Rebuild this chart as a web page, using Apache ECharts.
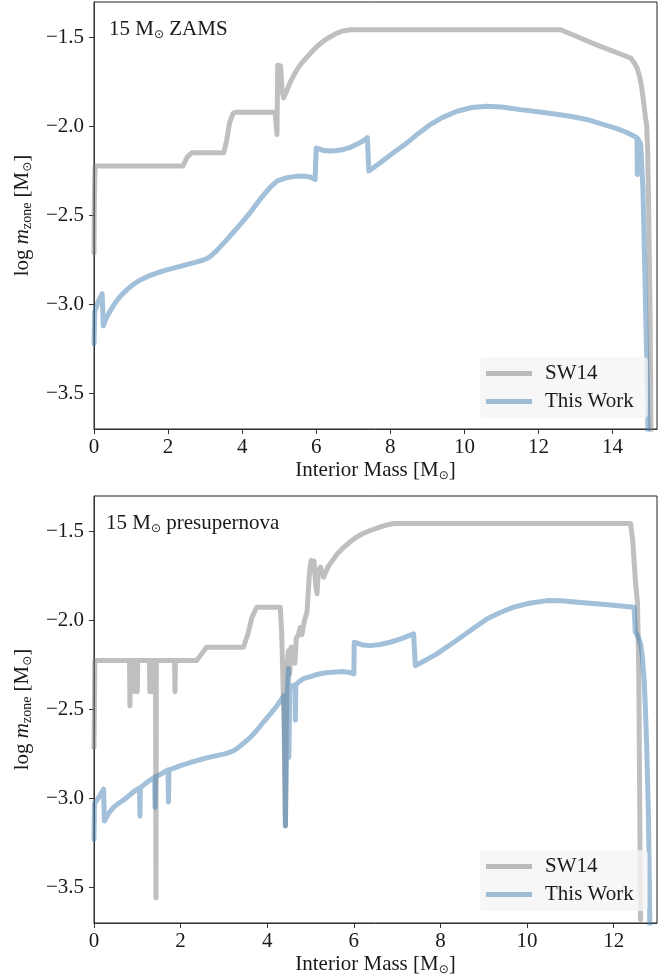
<!DOCTYPE html>
<html>
<head>
<meta charset="utf-8">
<script src="https://cdn.jsdelivr.net/npm/echarts@6/dist/echarts.min.js"></script>
<style>
  html, body { margin: 0; padding: 0; background: #fff; }
  #chart { width: 670px; height: 977px; }
</style>
</head>
<body>
<div id="chart"></div>
<script>
// Zone masses of a 15 Msun star: SW14 grid vs. this work, at ZAMS and presupernova.
// Each series is a list of [interior mass (Msun), log m_zone (Msun)] points.

const zamsSW14 = [
  [0.00, -2.71], [0.01, -2.40], [0.03, -2.222], [2.40, -2.222], [2.52, -2.17], [2.64, -2.148],
  [3.50, -2.148], [3.58, -2.08], [3.66, -1.98], [3.76, -1.925], [3.82, -1.92], [4.89, -1.92],
  [4.93, -1.92], [4.94, -2.045], [4.96, -1.655], [5.04, -1.66], [5.08, -1.80], [5.12, -1.84],
  [5.20, -1.80], [5.30, -1.75], [5.40, -1.71], [5.48, -1.68], [5.60, -1.645], [5.75, -1.61],
  [5.90, -1.575], [6.02, -1.55], [6.16, -1.525], [6.30, -1.505], [6.43, -1.49], [6.56, -1.475],
  [6.72, -1.463], [6.92, -1.456], [12.60, -1.456], [13.50, -1.535], [14.49, -1.615], [14.58, -1.64],
  [14.66, -1.67], [14.72, -1.71], [14.78, -1.77], [14.82, -1.83], [14.86, -1.90], [14.89, -1.95],
  [14.92, -1.99], [14.95, -2.15], [14.97, -2.40], [14.99, -2.70], [15.01, -3.00], [15.03, -3.50],
  [15.04, -3.85]
];

const zamsThisWork = [
  [0.00, -3.22], [0.02, -3.04], [0.12, -2.98], [0.22, -2.94], [0.25, -3.12], [0.32, -3.08],
  [0.40, -3.05], [0.50, -3.015], [0.61, -2.98], [0.75, -2.945], [0.90, -2.915], [1.06, -2.888],
  [1.25, -2.862], [1.50, -2.838], [1.75, -2.82], [1.96, -2.806], [2.25, -2.79], [2.50, -2.776],
  [2.75, -2.762], [2.95, -2.75], [3.07, -2.74], [3.14, -2.73], [3.22, -2.715], [3.30, -2.70],
  [3.50, -2.655], [3.68, -2.614], [3.95, -2.55], [4.22, -2.483], [4.50, -2.405], [4.76, -2.34],
  [4.95, -2.305], [5.21, -2.287], [5.45, -2.28], [5.66, -2.278], [5.85, -2.285], [5.97, -2.297],
  [6.00, -2.12], [6.20, -2.135], [6.38, -2.138], [6.56, -2.135], [6.74, -2.129], [6.92, -2.117],
  [7.10, -2.10], [7.25, -2.083], [7.38, -2.063], [7.42, -2.25], [7.73, -2.203], [8.00, -2.16],
  [8.40, -2.10], [8.75, -2.04], [9.08, -1.989], [9.40, -1.95], [9.80, -1.914], [10.20, -1.893],
  [10.61, -1.886], [11.00, -1.89], [11.51, -1.905], [12.20, -1.922], [12.86, -1.942], [13.30, -1.96],
  [13.76, -1.989], [14.10, -2.01], [14.40, -2.035], [14.66, -2.063], [14.67, -2.27], [14.69, -2.07],
  [14.76, -2.10], [14.82, -2.35], [14.87, -2.80], [14.92, -3.30], [14.97, -3.85]
];

const preSNSW14 = [
  [0.00, -2.714], [0.02, -2.225], [0.82, -2.225], [0.83, -2.48], [0.84, -2.225], [0.92, -2.225],
  [0.93, -2.40], [0.94, -2.225], [0.99, -2.225], [1.00, -2.40], [1.01, -2.225], [1.28, -2.225],
  [1.29, -2.40], [1.30, -2.225], [1.34, -2.225], [1.35, -2.40], [1.36, -2.225], [1.42, -2.225],
  [1.43, -3.56], [1.44, -2.225], [1.86, -2.225], [1.87, -2.40], [1.88, -2.225], [2.37, -2.225],
  [2.60, -2.150], [3.45, -2.150], [3.55, -2.08], [3.65, -1.98], [3.76, -1.925], [4.30, -1.925],
  [4.33, -2.05], [4.36, -2.30], [4.39, -2.60], [4.42, -3.155], [4.44, -2.60], [4.46, -2.25],
  [4.49, -2.17], [4.52, -2.30], [4.55, -2.15], [4.61, -2.15], [4.64, -2.24], [4.67, -2.10],
  [4.72, -2.08], [4.76, -2.04], [4.80, -2.08], [4.86, -2.00], [4.92, -1.95], [4.96, -1.944],
  [4.97, -1.75], [4.99, -1.70], [5.02, -1.662], [5.05, -1.72], [5.08, -1.665], [5.12, -1.80],
  [5.15, -1.85], [5.18, -1.72], [5.23, -1.70], [5.30, -1.756], [5.40, -1.70], [5.50, -1.665],
  [5.62, -1.625], [5.76, -1.59], [5.90, -1.56], [6.05, -1.533], [6.20, -1.512], [6.38, -1.494],
  [6.60, -1.475], [6.75, -1.463], [6.92, -1.455], [12.39, -1.455], [12.44, -1.55], [12.47, -1.662],
  [12.51, -1.665], [12.50, -1.775], [12.55, -1.90], [12.58, -2.30], [12.60, -3.00], [12.62, -3.68]
];

const preSNThisWork = [
  [0.00, -3.23], [0.01, -3.03], [0.12, -2.99], [0.22, -2.948], [0.24, -3.127], [0.32, -3.09],
  [0.45, -3.05], [0.58, -3.025], [0.68, -3.01], [0.80, -2.985], [0.90, -2.965], [1.05, -2.94],
  [1.06, -3.10], [1.07, -2.94], [1.25, -2.905], [1.40, -2.88], [1.41, -3.05], [1.42, -2.88],
  [1.71, -2.84], [1.72, -3.02], [1.73, -2.84], [2.00, -2.815], [2.22, -2.798], [2.60, -2.772],
  [2.99, -2.751], [3.10, -2.744], [3.22, -2.732], [3.30, -2.72], [3.40, -2.70], [3.50, -2.68],
  [3.61, -2.657], [3.73, -2.625], [3.85, -2.59], [3.96, -2.557], [4.07, -2.526], [4.20, -2.487],
  [4.34, -2.44], [4.39, -2.42], [4.42, -3.155], [4.46, -2.45], [4.49, -2.27], [4.50, -2.77],
  [4.52, -2.38], [4.64, -2.36], [4.65, -2.56], [4.66, -2.36], [4.75, -2.34], [4.85, -2.325],
  [5.00, -2.315], [5.15, -2.303], [5.30, -2.295], [5.50, -2.29], [5.76, -2.287], [5.90, -2.292],
  [6.00, -2.30], [6.01, -2.122], [6.20, -2.137], [6.38, -2.141], [6.60, -2.135], [6.84, -2.122],
  [7.10, -2.102], [7.38, -2.075], [7.42, -2.254], [7.90, -2.19], [8.31, -2.122], [8.70, -2.055],
  [9.08, -1.99], [9.38, -1.955], [9.69, -1.925], [10.05, -1.903], [10.47, -1.888], [10.80, -1.889],
  [11.16, -1.897], [11.80, -1.91], [12.47, -1.925], [12.50, -2.066], [12.56, -2.09], [12.62, -2.13],
  [12.66, -2.20], [12.70, -2.32], [12.73, -2.48], [12.76, -2.69], [12.78, -2.87], [12.80, -3.07],
  [12.82, -3.40], [12.84, -3.85]
];

const panelMass = '15 M';
const panelStages = [' ZAMS', ' presupernova'];
const xTicksZams = [0, 2, 4, 6, 8, 10, 12, 14];
const xTicksPreSN = [0, 2, 4, 6, 8, 10, 12];
const yTicks = [-3.5, -3.0, -2.5, -2.0, -1.5];
const seriesNames = ['SW14', 'This Work'];

const FONT = "'Liberation Serif', 'DejaVu Serif', serif";
const TXT = '#1a1a1a';
const GRAY = 'rgba(128,128,128,0.5)';
const BLUE = 'rgba(70,130,180,0.5)';

const rich = {
  r: { fontFamily: FONT, fontSize: 21, fontWeight: 'normal', color: TXT, lineHeight: 24 },
  i: { fontFamily: FONT, fontSize: 21, fontWeight: 'normal', fontStyle: 'italic', color: TXT, lineHeight: 24 },
  sub: { fontFamily: FONT, fontSize: 14, fontWeight: 'normal', color: TXT, verticalAlign: 'bottom', lineHeight: 16 },
  od: { fontFamily: "'DejaVu Sans'", fontSize: 12, fontWeight: 'normal', color: TXT, verticalAlign: 'bottom', lineHeight: 14 }
};

const fmtTick = v => (v < 0 ? '\u2212' + Math.abs(v).toFixed(1) : String(v));

const grids = [
  { left: 94, top: 2, width: 563, height: 427 },
  { left: 94, top: 496, width: 563, height: 427 }
];
grids.forEach(g => { g.show = true; g.borderColor = '#222'; g.borderWidth = 1; g.backgroundColor = 'transparent'; });

function xAxis(idx, max, ticks) {
  return {
    type: 'value', gridIndex: idx, min: 0, max: max,
    name: '{r|Interior Mass [M}{od|\u2299}{r|]}',
    nameLocation: 'middle', nameGap: 29,
    nameTextStyle: { rich: rich },
    axisLine: { show: true, lineStyle: { color: '#333', width: 1 } },
    axisTick: { show: true, length: 5, lineStyle: { color: '#333' }, customValues: ticks },
    axisLabel: { fontFamily: FONT, fontSize: 21, color: TXT, margin: 8, customValues: ticks,
                 formatter: v => String(v) },
    splitLine: { show: false }
  };
}
function yAxis(idx) {
  return {
    type: 'value', gridIndex: idx, min: -3.7, max: -1.3,
    name: '{r|log }{i|m}{sub|zone}{r| [M}{od|\u2299}{r|]}',
    nameLocation: 'middle', nameGap: 60, nameRotate: 90,
    nameTextStyle: { rich: rich },
    axisLine: { show: true, lineStyle: { color: '#333', width: 1 } },
    axisTick: { show: true, length: 5, lineStyle: { color: '#333' }, customValues: yTicks },
    axisLabel: { fontFamily: FONT, fontSize: 21, color: TXT, margin: 10, customValues: yTicks,
                 formatter: fmtTick },
    splitLine: { show: false }
  };
}

function lineSeries(name, data, color, idx) {
  return {
    name: name, type: 'line', data: data, xAxisIndex: idx, yAxisIndex: idx,
    showSymbol: false, symbol: 'none', smooth: false, animation: false, clip: true,
    color: color,
    lineStyle: { color: color, width: 5, cap: 'round', join: 'round' },
    emphasis: { disabled: true }
  };
}

function legend(top) {
  return {
    data: seriesNames, orient: 'vertical', left: 480, top: top,
    icon: 'rect', itemWidth: 46, itemHeight: 5, itemGap: 7,
    padding: [6, 14, 6, 6],
    backgroundColor: 'rgba(245,245,245,0.8)', borderRadius: 4,
    textStyle: { fontFamily: FONT, fontSize: 21, color: TXT, lineHeight: 21, padding: [0, 0, 0, 8] },
    selectedMode: false
  };
}

function panelTitle(stage, left, top) {
  return {
    text: '{r|' + panelMass + '}{od|\u2299}{r|' + stage + '}', left: left, top: top,
    textStyle: { fontWeight: 'normal', rich: rich }
  };
}

const chart = echarts.init(document.getElementById('chart'), null, { renderer: 'canvas' });
chart.setOption({
  animation: false,
  backgroundColor: '#fff',
  title: [panelTitle(panelStages[0], 104, 12), panelTitle(panelStages[1], 101, 506)],
  grid: grids,
  xAxis: [xAxis(0, 15.2, xTicksZams), xAxis(1, 13.0, xTicksPreSN)],
  yAxis: [yAxis(0), yAxis(1)],
  legend: [legend(357), legend(850)],
  series: [
    lineSeries(seriesNames[0], zamsSW14, GRAY, 0),
    lineSeries(seriesNames[1], zamsThisWork, BLUE, 0),
    lineSeries(seriesNames[0], preSNSW14, GRAY, 1),
    lineSeries(seriesNames[1], preSNThisWork, BLUE, 1)
  ]
});
</script>
</body>
</html>
